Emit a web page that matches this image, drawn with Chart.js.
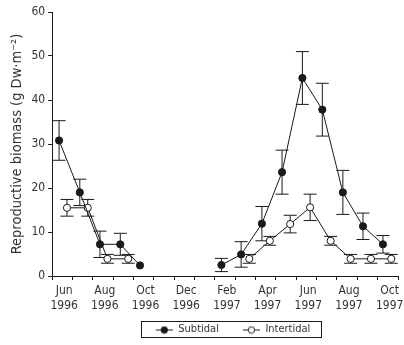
<!DOCTYPE html>
<html>
<head>
<meta charset="utf-8">
<script src="https://cdn.jsdelivr.net/npm/chart.js@4/dist/chart.umd.min.js"></script>
<style>
  html, body { margin: 0; padding: 0; background: #fff; }
  #wrap { width: 404px; height: 345px; }
</style>
</head>
<body>
<div id="wrap"><canvas id="myChart"></canvas></div>
<script>
// x positions are months since 1 Jun 1996 (0 = Jun 1996, 17 = Nov 1997)
const subtidalMonths = [0.34, 1.36, 2.35, 3.35, 4.32, 8.32, 9.29, 10.31, 11.30, 12.30, 13.28, 14.29, 15.28, 16.26];
const subtidalValues = [30.8, 19.0, 7.2, 7.2, 2.4, 2.5, 4.9, 11.9, 23.6, 45.0, 37.8, 19.0, 11.3, 7.2];
const subtidalErrors = [4.5, 3.0, 3.0, 2.5, 0, 1.5, 2.9, 3.9, 5.0, 6.0, 6.0, 5.0, 3.0, 2.0];

const intertidalMonths = [0.73, 1.75, 2.72, 3.74, 9.69, 10.70, 11.70, 12.68, 13.69, 14.67, 15.67, 16.67];
const intertidalValues = [15.5, 15.5, 3.9, 3.9, 3.9, 8.0, 11.8, 15.6, 8.0, 3.9, 3.9, 3.9];
const intertidalErrors = [1.9, 1.9, 1.0, 1.0, 1.0, 1.0, 2.0, 3.0, 1.0, 1.0, 1.0, 1.0];

// no sampling between these months, line is broken there
const gapMonth = 6;

const tickMonths = ['Jun', '', 'Aug', '', 'Oct', '', 'Dec', '', 'Feb', '', 'Apr', '', 'Jun', '', 'Aug', '', 'Oct', ''];
const tickYears  = ['1996', '', '1996', '', '1996', '', '1996', '', '1997', '', '1997', '', '1997', '', '1997', '', '1997', ''];

const FONT = "'Liberation Sans Narrow', 'DejaVu Sans Condensed', 'Liberation Sans', sans-serif";
const INK = '#1a1a1a';
const TEXT = '#333';
const ICON_GAP = 16; // blank space in front of each legend icon

function buildPoints(months, values, errors) {
  let pts = [];
  for (let i = 0; i < months.length; i++) {
    if (i > 0 && months[i - 1] < gapMonth && months[i] > gapMonth) {
      pts.push({ x: gapMonth, y: null });
    }
    pts.push({ x: months[i], y: values[i], err: errors[i] });
  }
  return pts;
}

// line+marker icon for the legend
function legendIcon(filled) {
  let c = document.createElement('canvas');
  c.width = ICON_GAP + 17; c.height = 10;
  let ctx = c.getContext('2d');
  ctx.strokeStyle = INK;
  ctx.lineWidth = 1;
  ctx.beginPath();
  ctx.moveTo(ICON_GAP, 5.5); ctx.lineTo(ICON_GAP + 17, 5.5);
  ctx.stroke();
  ctx.beginPath();
  ctx.arc(ICON_GAP + 8.5, 5.5, 3.2, 0, Math.PI * 2);
  ctx.fillStyle = filled ? INK : '#fff';
  ctx.fill();
  ctx.stroke();
  return c;
}

const errorBars = {
  id: 'errorBars',
  beforeDatasetsDraw(chart) {
    const ctx = chart.ctx;
    const xs = chart.scales.x, ys = chart.scales.y;
    ctx.save();
    ctx.strokeStyle = INK;
    ctx.lineWidth = 1;
    chart.data.datasets.forEach(ds => {
      ds.data.forEach(p => {
        if (p.y === null || !p.err) return;
        const x = xs.getPixelForValue(p.x);
        const top = ys.getPixelForValue(p.y + p.err);
        const bot = ys.getPixelForValue(p.y - p.err);
        ctx.beginPath();
        ctx.moveTo(x, top); ctx.lineTo(x, bot);
        ctx.moveTo(x - 6.5, top); ctx.lineTo(x + 6.5, top);
        ctx.moveTo(x - 6.5, bot); ctx.lineTo(x + 6.5, bot);
        ctx.stroke();
      });
    });
    ctx.restore();
  }
};

const legendBox = {
  id: 'legendBox',
  afterDraw(chart) {
    const boxes = chart.legend.legendHitBoxes;
    if (!boxes || !boxes.length) return;
    let minX = Infinity, maxX = -Infinity, minY = Infinity, maxY = -Infinity;
    boxes.forEach(b => {
      minX = Math.min(minX, b.left); maxX = Math.max(maxX, b.left + b.width);
      minY = Math.min(minY, b.top); maxY = Math.max(maxY, b.top + b.height);
    });
    const ctx = chart.ctx;
    ctx.save();
    ctx.strokeStyle = INK;
    ctx.lineWidth = 1;
    const left = Math.round(minX + ICON_GAP - 15) + 0.5;
    const right = Math.round(maxX + 11) + 0.5;
    ctx.strokeRect(left, Math.round(minY - 3) + 0.5, right - left, Math.round(maxY - minY + 5));
    ctx.restore();
  }
};

const data = {
  datasets: [
    {
      label: 'Subtidal',
      data: buildPoints(subtidalMonths, subtidalValues, subtidalErrors),
      legendIcon: legendIcon(true),
      borderColor: INK,
      backgroundColor: INK,
      borderWidth: 1,
      pointStyle: 'circle',
      pointRadius: 3.6,
      pointBorderWidth: 1,
      pointBackgroundColor: INK,
      pointBorderColor: INK,
      spanGaps: false
    },
    {
      label: 'Intertidal',
      data: buildPoints(intertidalMonths, intertidalValues, intertidalErrors),
      legendIcon: legendIcon(false),
      borderColor: INK,
      backgroundColor: '#fff',
      borderWidth: 1,
      pointStyle: 'circle',
      pointRadius: 3.6,
      pointBorderWidth: 1,
      pointBackgroundColor: '#fff',
      pointBorderColor: INK,
      spanGaps: false
    }
  ]
};

const conf = {
  type: 'line',
  data: data,
  plugins: [errorBars, legendBox],
  options: {
    responsive: true,
    maintainAspectRatio: false,
    animation: false,
    layout: { padding: { left: 9, right: 6, top: 12, bottom: 0 } },
    plugins: {
      tooltip: { enabled: false },
      legend: {
        position: 'bottom',
        fullSize: false,
        labels: {
          usePointStyle: true,
          pointStyleWidth: ICON_GAP + 17,
          padding: 8,
          color: TEXT,
          font: { family: FONT, size: 11 },
          generateLabels(chart) {
            return chart.data.datasets.map((ds, i) => ({
              text: ds.label,
              pointStyle: ds.legendIcon,
              fontColor: TEXT,
              hidden: false,
              lineWidth: 0,
              strokeStyle: 'transparent',
              fillStyle: 'transparent',
              datasetIndex: i
            }));
          }
        }
      }
    },
    scales: {
      x: {
        type: 'linear',
        min: 0,
        max: 17,
        grid: { display: true, drawOnChartArea: false, drawTicks: true, tickLength: 4, color: INK },
        border: { display: true, color: INK, width: 1 },
        ticks: {
          stepSize: 1,
          autoSkip: false,
          maxRotation: 0,
          labelOffset: 12,
          padding: 3,
          color: TEXT,
          font: { family: FONT, size: 12, lineHeight: 1.25 },
          callback: v => tickMonths[v] ? [tickMonths[v], tickYears[v]] : ''
        }
      },
      y: {
        min: 0,
        max: 60,
        grid: { display: true, drawOnChartArea: false, drawTicks: true, tickLength: 4, color: INK },
        border: { display: true, color: INK, width: 1 },
        ticks: {
          stepSize: 10,
          padding: 3,
          color: TEXT,
          font: { family: FONT, size: 12 }
        },
        title: {
          display: true,
          text: 'Reproductive biomass (g Dw\u00b7m\u207b\u00b2)',
          color: TEXT,
          padding: { top: 0, bottom: 2 },
          font: { family: FONT, size: 14.5 }
        }
      }
    }
  }
};

const myChart = new Chart(document.getElementById('myChart'), conf);
</script>
</body>
</html>
